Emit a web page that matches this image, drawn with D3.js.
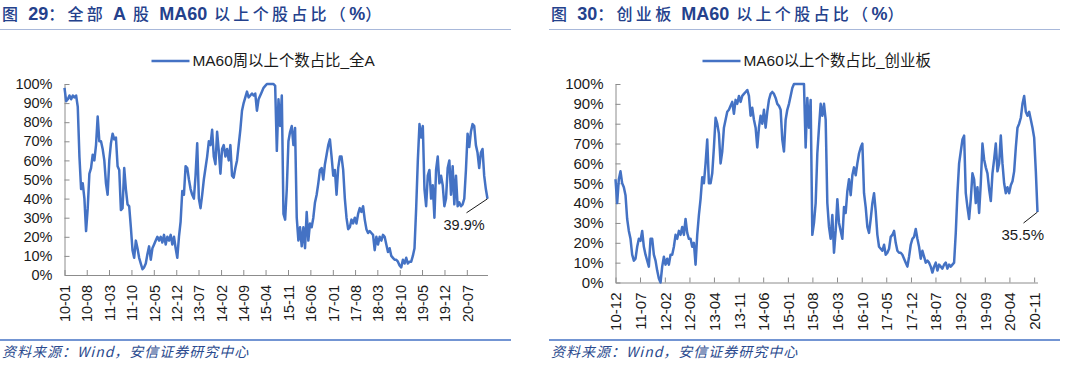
<!DOCTYPE html>
<html>
<head>
<meta charset="utf-8">
<script src="https://cdn.jsdelivr.net/npm/d3@7"></script>
<style>
body { margin: 0; background: #fff; }
svg { display: block; }
text { font-family: "Liberation Sans", Arial, "Noto Sans CJK SC", sans-serif; }
</style>
</head>
<body>
<svg id="chart" width="1080" height="365"></svg>
<script>

// MA60 weekly share, all A shares (%), 2010-01 .. 2021-01
var allA = [98,91,92,94,92,94,93,94,88,62,
  45,48,40,23,35,53,56,63,60,68,
  83,70,70,66,60,48,42,60,69,74,
  71,72,57,55,34,35,56,45,37,36,
  25,13,9,18,14,9,6,3,4,6,
  11,15,8,14,16,18,20,18,20,17,
  21,16,20,18,21,16,20,14,9,20,
  28,44,42,57,56,50,45,42,40,52,
  69,40,35,42,50,56,62,70,68,76,
  62,58,75,65,53,66,68,62,66,60,
  68,52,51,56,60,68,76,86,90,93,
  96,93,94,95,94,95,86,92,94,96,
  98,99,100,100,100,100,100,99,65,92,
  78,94,32,29,45,70,75,78,68,77,
  30,18,25,15,25,14,33,18,27,25,
  30,38,42,48,55,56,50,58,63,68,
  71,62,52,55,42,56,62,62,55,40,
  30,24,25,29,27,30,27,32,35,33,
  36,29,24,22,23,22,21,13,20,16,
  20,18,21,20,16,12,14,10,9,8,
  8,7,5,4,8,6,9,6,7,7,
  10,14,35,60,79,72,78,45,36,52,
  55,40,47,30,55,62,48,52,47,36,
  40,56,60,42,57,37,52,36,38,36,
  37,40,55,74,67,75,79,78,68,64,
  56,64,66,52,45,39.9];

// MA60 share, ChiNext (%), 2010-12 .. 2020-11
var cyb = [52,40,52,56,50,48,44,32,26,22,
  14,11,12,18,22,21,26,18,14,11,
  8,22,22,14,11,6,2,0,8,13,
  9,12,9,14,14,18,24,22,26,24,
  28,24,32,25,22,22,18,20,9,24,
  34,42,53,50,60,72,50,50,55,68,
  83,80,75,60,66,78,82,86,87,89,
  91,85,92,90,94,91,94,95,96,97,
  94,84,88,82,78,68,78,84,80,87,
  78,86,92,95,96,95,93,90,89,87,
  72,66,82,87,90,94,98,100,100,100,
  100,100,100,100,68,93,78,92,24,30,
  40,65,78,90,84,90,82,40,28,22,
  34,15,26,42,30,26,22,38,35,46,
  52,44,54,58,54,60,65,68,70,45,
  38,28,25,32,40,45,36,24,18,17,
  16,19,14,15,17,23,24,26,20,16,
  15,15,14,12,10,8,13,19,22,23,
  27,22,18,12,16,13,10,11,10,8,
  5,8,10,6,9,8,7,9,10,7,
  9,8,9,10,25,45,60,66,72,74,
  45,38,32,42,55,52,40,48,35,50,
  70,62,58,55,47,41,55,62,70,56,
  60,74,60,50,45,48,45,49,51,56,
  68,78,80,83,90,94,86,84,86,82,
  78,73,56,35.5];

var allATicks = ["10-01","10-08","11-03","11-10","12-05","12-12","13-07","14-02","14-09",
  "15-04","15-11","16-06","17-01","17-08","18-03","18-10","19-05","19-12","20-07"];
var cybTicks = ["10-12","11-07","12-02","12-09","13-04","13-11","14-06","15-01","15-08",
  "16-03","16-10","17-05","17-12","18-07","19-02","19-09","20-04","20-11"];
var yTicks = [0,10,20,30,40,50,60,70,80,90,100];

var source = "资料来源：Wind，安信证券研究中心";

var parseTick = d3.timeParse("%y-%m");
var svg = d3.select("#chart");

function renderChart(opt) {

  var g = svg.append("g");

  // title
  var title = g.append("text")
    .attr("x", opt.left + 2)
    .attr("y", 20)
    .style("fill", "#24418c");
  opt.title.split(/([A-Za-z0-9%]+)/).forEach(function(s) {
    if (!s) return;
    var bold = /[A-Za-z0-9%]/.test(s);
    title.append("tspan")
      .style("font-family", bold ? "'Liberation Sans', Arial" : "'Noto Sans CJK SC'")
      .style("font-weight", bold ? "bold" : "500")
      .style("font-size", bold ? "18px" : "16px")
      .style("letter-spacing", bold ? "0px" : "3.3px")
      .text(s);
  });

  g.append("line")
    .attr("x1", opt.left).attr("x2", opt.left + opt.width)
    .attr("y1", 29.5).attr("y2", 29.5)
    .style("stroke", "#a8b8da").style("stroke-width", 1);

  // scales
  var x = d3.scaleTime().domain([opt.start, opt.end]).range(opt.xRange);
  var y = d3.scaleLinear().domain([0, 100]).range(opt.yRange);

  var n = opt.values.length;
  var idx = d3.scaleLinear().domain([0, n - 1]).range([opt.start, opt.end]);
  var data = opt.values.map(function(v, i) { return {date: new Date(idx(i)), value: v}; });

  // axes
  var yAxis = g.append("g")
    .attr("transform", "translate(" + opt.xRange[0] + ",0)")
    .call(d3.axisLeft(y).tickValues(yTicks).tickSizeInner(-5).tickSizeOuter(0)
      .tickPadding(12).tickFormat(function(d) { return d + "%"; }));
  yAxis.selectAll("text").style("font-size", opt.font + "px").style("fill", "#1a1a1a");

  var xAxis = g.append("g")
    .attr("transform", "translate(0," + opt.yRange[0] + ")")
    .call(d3.axisBottom(x).tickValues(opt.ticks.map(parseTick)).tickSizeInner(-5).tickSizeOuter(0)
      .tickFormat(d3.timeFormat("%y-%m")));
  xAxis.selectAll("text")
    .attr("transform", "rotate(-90)")
    .attr("x", -10).attr("y", 0).attr("dy", "0.36em")
    .style("text-anchor", "end")
    .style("font-size", opt.font + "px")
    .style("fill", "#1a1a1a");

  g.selectAll(".domain, .tick line").style("stroke", "#8c8c8c");

  // series
  var line = d3.line()
    .x(function(d) { return x(d.date); })
    .y(function(d) { return y(d.value); });

  g.append("path")
    .datum(data)
    .attr("d", line)
    .style("fill", "none")
    .style("stroke", "#4472c4")
    .style("stroke-width", 2.5)
    .style("stroke-linejoin", "round");

  // legend
  var lx = opt.xRange[0] + 87;
  g.append("line")
    .attr("x1", lx).attr("x2", lx + 38)
    .attr("y1", 61).attr("y2", 61)
    .style("stroke", "#4472c4").style("stroke-width", 2.5);
  g.append("text")
    .attr("x", lx + 41).attr("y", 66)
    .style("font-size", "15.4px").style("fill", "#1a1a1a")
    .text(opt.legend);

  // last value label
  var last = data[n - 1];
  var px = x(last.date), py = y(last.value);
  g.append("line")
    .attr("x1", px).attr("y1", py)
    .attr("x2", px - opt.lead[0]).attr("y2", py + opt.lead[1])
    .style("stroke", "#1a1a1a").style("stroke-width", 1);
  g.append("text")
    .attr("x", px - opt.lab[0]).attr("y", py + opt.lab[1])
    .style("font-size", opt.font + "px").style("fill", "#1a1a1a")
    .text(last.value.toFixed(1) + "%");

  // source
  g.append("line")
    .attr("x1", opt.left).attr("x2", opt.left + opt.width)
    .attr("y1", 340).attr("y2", 340)
    .style("stroke", "#4472c4").style("stroke-width", 1.5);
  g.append("text")
    .attr("x", opt.left + 2).attr("y", 357)
    .style("font-family", "'Noto Sans CJK SC', sans-serif")
    .style("font-style", "italic")
    .style("font-size", "14px")
    .style("letter-spacing", "1px")
    .style("fill", "#2a4a8e")
    .text(source);
}

renderChart({
  title: "图 29：全部 A 股 MA60 以上个股占比（%）",
  legend: "MA60周以上个数占比_全A",
  values: allA,
  ticks: allATicks,
  start: new Date(2010, 0, 1),
  end: new Date(2021, 0, 14),
  left: 0, width: 511,
  xRange: [64.5, 487.5],
  yRange: [275, 84],
  font: 14.5,
  lead: [21, 14],
  lab: [44, 31]
});

renderChart({
  title: "图 30：创业板 MA60 以上个股占比（%）",
  legend: "MA60以上个数占比_创业板",
  values: cyb,
  ticks: cybTicks,
  start: new Date(2010, 11, 1),
  end: new Date(2020, 10, 30),
  left: 549, width: 511,
  xRange: [615.5, 1037.5],
  yRange: [282.5, 84],
  font: 15,
  lead: [14, 11],
  lab: [36, 28]
});

</script>
</body>
</html>
